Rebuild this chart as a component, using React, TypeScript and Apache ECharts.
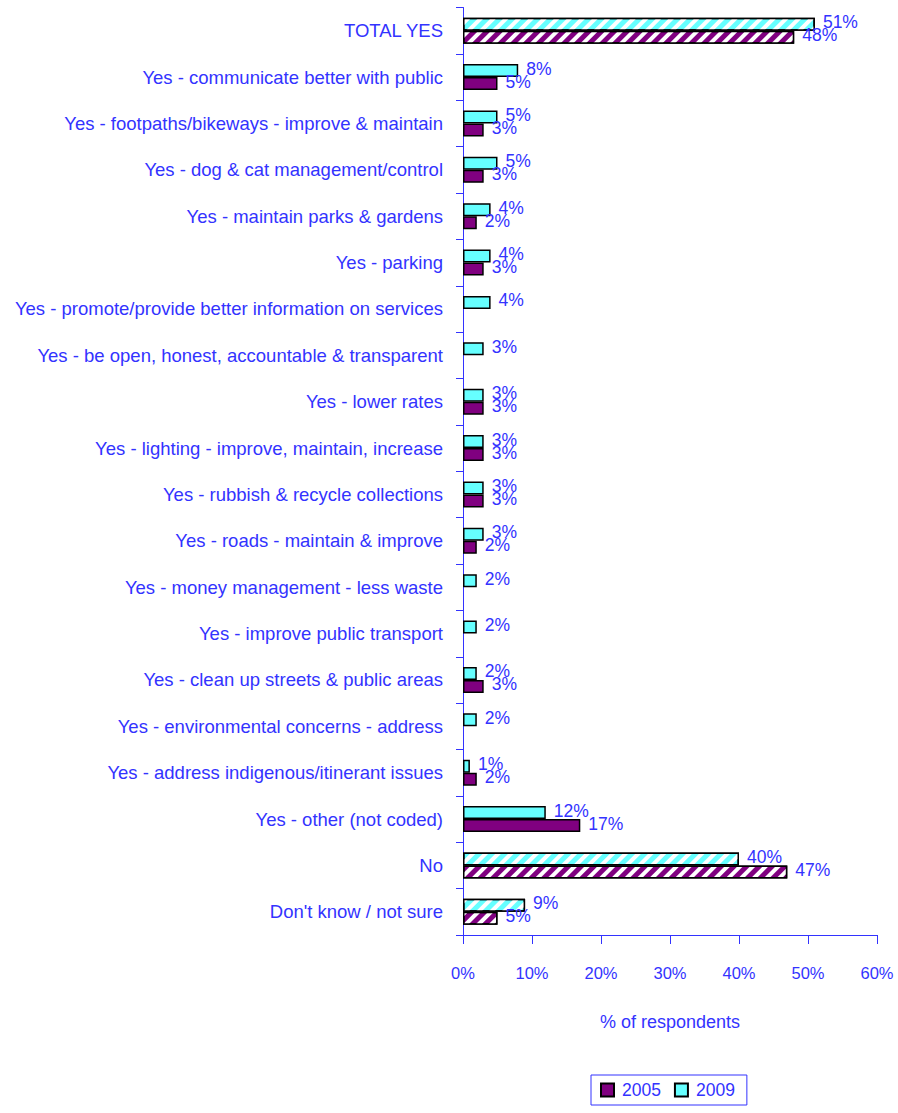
import React, { useEffect, useRef } from "react";
import * as echarts from "echarts";

const categories = [
  "TOTAL YES",
  "Yes - communicate better with public",
  "Yes - footpaths/bikeways - improve & maintain",
  "Yes - dog & cat management/control",
  "Yes - maintain parks & gardens",
  "Yes - parking",
  "Yes - promote/provide better information on services",
  "Yes - be open, honest, accountable & transparent",
  "Yes - lower rates",
  "Yes - lighting - improve, maintain, increase",
  "Yes - rubbish & recycle collections",
  "Yes - roads - maintain & improve",
  "Yes - money management - less waste",
  "Yes - improve public transport",
  "Yes - clean up streets & public areas",
  "Yes - environmental concerns - address",
  "Yes - address indigenous/itinerant issues",
  "Yes - other (not coded)",
  "No",
  "Don't know / not sure",
];

const values2009 = [51, 8, 5, 5, 4, 4, 4, 3, 3, 3, 3, 3, 2, 2, 2, 2, 1, 12, 40, 9];
const values2005: (number | null)[] = [48, 5, 3, 3, 2, 3, null, null, 3, 3, 3, 2, null, null, 3, null, 2, 17, 47, 5];

const hatchedCategories = ["TOTAL YES", "No", "Don't know / not sure"];
const xTicks = [0, 10, 20, 30, 40, 50, 60];

const BLUE = "#3333ff";
const PURPLE = "#800080";
const CYAN = "#66ffff";
const FONT = "'Liberation Sans', Arial, sans-serif";

const decal = {
  color: "#ffffff",
  symbol: "rect",
  symbolSize: 1,
  dashArrayX: [1, 0],
  dashArrayY: [4, 5],
  rotation: -Math.PI / 4,
};

function buildData(vals: (number | null)[]) {
  return vals.map((v, i) => {
    if (v === null) return "-";
    if (hatchedCategories.includes(categories[i])) {
      return { value: v, itemStyle: { decal } };
    }
    return v;
  });
}

export default function App() {
  const ref = useRef<HTMLDivElement>(null);
  useEffect(() => {
    if (!ref.current) return;
    const chart = echarts.init(ref.current, undefined, { renderer: "svg" });
    const labelStyle = {
      show: true,
      position: "right" as const,
      distance: 8,
      color: BLUE,
      fontSize: 17.5,
      fontFamily: FONT,
      formatter: (p: any) => `${p.value}%`,
    };
    chart.setOption({
      animation: false,
      textStyle: { fontFamily: FONT },
      grid: { left: 463, right: 21, top: 7.5, bottom: 178, containLabel: false, outerBoundsMode: "none" },
      legend: {
        data: ["2005", "2009"],
        top: 1075,
        left: 591,
        icon: "rect",
        itemWidth: 13,
        itemHeight: 13,
        itemGap: 13,
        borderColor: BLUE,
        borderWidth: 1,
        borderRadius: 0,
        padding: [6, 12, 6, 9],
        itemStyle: { borderColor: "#000", borderWidth: 2 },
        textStyle: { color: BLUE, fontSize: 17.5, fontFamily: FONT, padding: [0, 0, 0, 3] },
      },
      xAxis: {
        type: "value",
        min: 0,
        max: 60,
        interval: 10,
        name: "% of respondents",
        nameLocation: "middle",
        nameGap: 78,
        nameTextStyle: { color: BLUE, fontSize: 18, fontFamily: FONT },
        axisLine: { show: true, lineStyle: { color: BLUE, width: 1 } },
        axisTick: { show: true, length: 9, lineStyle: { color: BLUE } },
        axisLabel: {
          color: BLUE,
          fontSize: 16.5,
          fontFamily: FONT,
          margin: 29,
          formatter: (v: number) => (xTicks.includes(v) ? `${v}%` : ""),
        },
        splitLine: { show: false },
      },
      yAxis: {
        type: "category",
        inverse: true,
        data: categories,
        axisLine: { show: true, lineStyle: { color: BLUE, width: 1 } },
        axisTick: { show: true, length: 7, lineStyle: { color: BLUE } },
        axisLabel: { color: BLUE, fontSize: 18.5, fontFamily: FONT, margin: 20 },
      },
      series: [
        {
          name: "2009",
          type: "bar",
          data: buildData(values2009),
          barWidth: 13,
          barGap: "0%",
          itemStyle: { color: CYAN, borderColor: "#000", borderWidth: 1.5 },
          label: { ...labelStyle, offset: [0, -2] },
        },
        {
          name: "2005",
          type: "bar",
          data: buildData(values2005),
          barWidth: 13,
          barGap: "0%",
          itemStyle: { color: PURPLE, borderColor: "#000", borderWidth: 1.5 },
          label: { ...labelStyle, offset: [0, -2] },
        },
      ],
    });
    return () => chart.dispose();
  }, []);
  return <div ref={ref} style={{ position: "absolute", left: 0, top: 0, width: 898, height: 1113 }} />;
}
